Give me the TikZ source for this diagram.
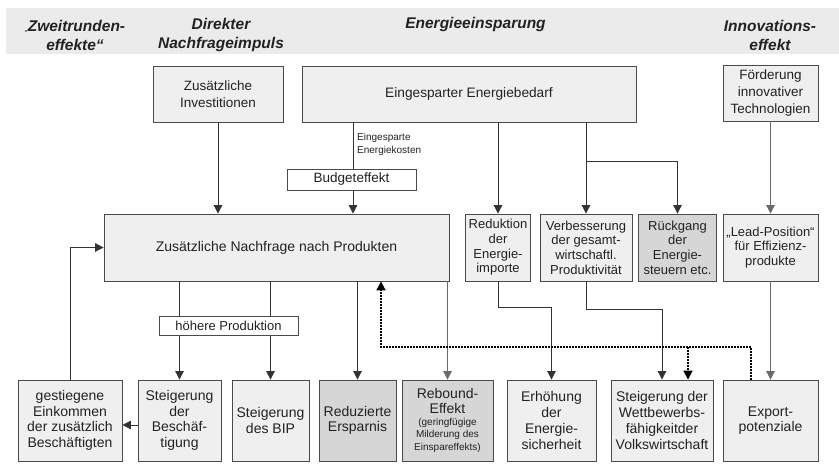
\documentclass[tikz,border=0pt]{standalone}
\usepackage{fontspec}
\setmainfont{Liberation Sans}
\usetikzlibrary{arrows.meta}
\definecolor{boxfill}{HTML}{EFEFEF}
\definecolor{boxdark}{HTML}{D6D6D6}
\definecolor{band}{HTML}{EBEBEB}
\definecolor{edge}{HTML}{4A4A4A}
\definecolor{ink}{HTML}{222222}
\definecolor{lin}{HTML}{333333}
\definecolor{lingray}{HTML}{6A6A6A}
\tikzset{
 bx/.style={draw=edge, line width=0.8pt, fill=boxfill, text=ink, align=center, inner sep=0pt, font=\fontsize{14}{15.7}\selectfont},
 bxdark/.style={bx, fill=boxdark},
 lab/.style={draw=edge, line width=0.8pt, fill=white, text=ink, inner sep=0pt, font=\fontsize{13.5}{15}\selectfont},
 conn/.style={draw=lin, line width=0.8pt, -{Triangle[length=8.5pt,width=8.5pt]}},
 plainline/.style={draw=lin, line width=0.8pt},
 connlight/.style={conn, draw=lingray},
 dots/.style={draw=black, line width=1.7pt, dash pattern=on 1.7pt off 1.3pt, -{Triangle[length=9pt,width=9pt]}},
 head/.style={font=\fontsize{15.5}{19}\selectfont\bfseries\itshape, text=ink, align=center, inner sep=0pt}
}
\begin{document}
\begin{tikzpicture}[x=1pt,y=-1pt]
\useasboundingbox (0,0) rectangle (839,468);
\fill[band] (6,8) rectangle (839,54);
% headers
\node[head] (h1) at (75,35) {{\fontsize{6}{6}\selectfont „}Zweitrunden-\\effekte“};
\node[head] (h2) at (221,35) {Direkter\\Nachfrageimpuls};
\node[head, anchor=base] (h3) at (475.5,29) {Energieeinsparung};
\node[head] (h4) at (770,35) {Innovations-\\effekt};
% top row
\node[bx, minimum width=130pt, minimum height=56pt, font=\fontsize{13.5}{17}\selectfont] (inv) at (218,94) {Zusätzliche\\Investitionen};
\node[bx, minimum width=334pt, minimum height=56pt, font=\fontsize{13.7}{17}\selectfont] (ene) at (469,94) {Eingesparter Energiebedarf};
\node[bx, minimum width=95pt, minimum height=56pt, font=\fontsize{13.5}{17}\selectfont] (foe) at (770.5,93) {Förderung\\innovativer\\Technologien};
% middle row
\node[bx, minimum width=345pt, minimum height=67pt, font=\fontsize{14}{17}\selectfont] (nach) at (276.5,247.5) {Zusätzliche Nachfrage nach Produkten};
\node[bx, minimum width=65pt, minimum height=67pt, font=\fontsize{13}{14.7}\selectfont] (red) at (498,247.5) {Reduktion\\der\\Energie-\\importe};
\node[bx, minimum width=92pt, minimum height=67pt, font=\fontsize{13}{14.7}\selectfont] (ver) at (586,247.5) {Verbesserung\\der gesamt-\\wirtschaftl.\\Produktivität};
\node[bxdark, minimum width=78pt, minimum height=67pt, font=\fontsize{13}{14.7}\selectfont] (rue) at (677.5,247.5) {Rückgang\\der\\Energie-\\steuern etc.};
\node[bx, minimum width=95pt, minimum height=67pt, font=\fontsize{13}{14.7}\selectfont] (lead) at (770.5,247.5) {„Lead-Position“\\für Effizienz-\\produkte};
% bottom row
\node[bx, minimum width=104pt, minimum height=81pt] (ein) at (70,420.5) {gestiegene\\Einkommen\\der zusätzlich\\Beschäftigten};
\node[bx, minimum width=83pt, minimum height=81pt] (bes) at (179.5,420.5) {Steigerung\\der\\Beschäf-\\tigung};
\node[bx, minimum width=77pt, minimum height=81pt] (bip) at (270.5,420.5) {Steigerung\\des BIP};
\node[bxdark, minimum width=77pt, minimum height=81pt] (ers) at (357.5,420.5) {Reduzierte\\Ersparnis};
\node[bxdark, minimum width=91pt, minimum height=81pt] (reb) at (447.5,420.5) {Rebound-\\[-1pt]Effekt\\[-3.5pt]{\fontsize{10}{12}\selectfont (geringfügige}\\[-3.5pt]{\fontsize{10}{12}\selectfont Milderung des}\\[-3.5pt]{\fontsize{10}{12}\selectfont Einspareffekts)}};
\node[bx, minimum width=89pt, minimum height=81pt] (erh) at (551.5,420.5) {Erhöhung\\der\\Energie-\\sicherheit};
\node[bx, minimum width=102pt, minimum height=81pt] (wet) at (662,420.5) {Steigerung der\\Wettbewerbs-\\fähigkeitder\\Volkswirtschaft};
\node[bx, minimum width=95pt, minimum height=81pt] (exp) at (770.5,420.5) {Export-\\potenziale};
% connectors
\draw[conn] (inv.south) -- (inv.south |- nach.north);
\coordinate (bt) at (353,169);
\draw[plainline] (bt |- ene.south) -- (bt);
\draw[conn] (bt) -- (bt |- nach.north);
\draw[conn] (red.north |- ene.south) -- (red.north);
\draw[conn] (ver.north |- ene.south) -- (ver.north);
\coordinate (vb) at (586,161);
\draw[conn] (vb) -| (rue.north);
\draw[connlight] (foe.south) -- (lead.north);
\draw[conn] (bes.north |- nach.south) -- (bes.north);
\draw[conn] (bip.north |- nach.south) -- (bip.north);
\draw[conn] (ers.north |- nach.south) -- (ers.north);
\draw[connlight] (reb.north |- nach.south) -- (reb.north);
\coordinate (rk) at (498,307);
\draw[conn] (red.south) -- (rk) -| (erh.north);
\coordinate (vk) at (586,309);
\draw[conn] (ver.south) -- (vk) -| (wet.north);
\draw[connlight] (lead.south) -- (exp.north);
\draw[conn] (ein.north) |- (nach.west);
\draw[conn] ([yshift=-4.5pt]bes.west) -- ([yshift=-4.5pt]bes.west -| ein.east);
% dotted feedback
\coordinate (dA) at (751,347);
\coordinate (dB) at (381,347);
\coordinate (dC) at (688,347);
\draw[dots] (dA |- exp.north) -- (dA) -- (dB) -- (dB |- nach.south);
\draw[dots] (dC) -- (dC |- wet.north);
% label boxes
\node[lab, minimum width=129pt, minimum height=21pt] (budget) at (351.5,179.5) {Budgeteffekt};
\node[lab, minimum width=139pt, minimum height=19pt, font=\fontsize{13}{15}\selectfont] (hp) at (228.5,325.5) {höhere Produktion};
\node[text=ink, anchor=north west, align=left, inner sep=0pt, font=\fontsize{10}{13}\selectfont] (ek) at (357,133) {Eingesparte\\Energiekosten};
\end{tikzpicture}
\end{document}
